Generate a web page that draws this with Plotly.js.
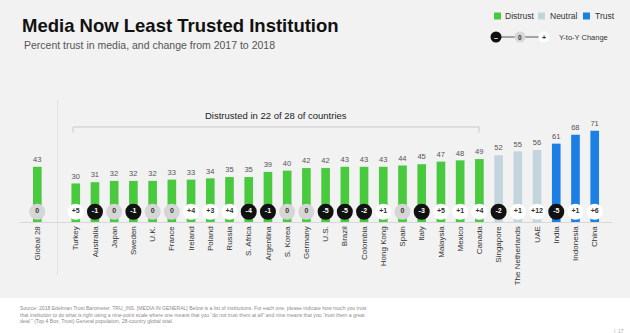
<!DOCTYPE html>
<html>
<head>
<meta charset="utf-8">
<script src="https://cdn.plot.ly/plotly-3.0.1.min.js"></script>
<style>html,body{margin:0;padding:0;background:#fff;}#chart{width:630px;height:333px;}</style>
</head>
<body>
<div id="chart"></div>
<script>
// ---- data ----
const countries = ['Global 28','Turkey','Australia','Japan','Sweden','U.K.','France','Ireland','Poland','Russia','S. Africa','Argentina','S. Korea','Germany','U.S.','Brazil','Colombia','Hong Kong','Spain','Italy','Malaysia','Mexico','Canada','Singapore','The Netherlands','UAE','India','Indonesia','China'];
const trustPct = [43,30,31,32,32,32,33,33,34,35,35,39,40,42,42,43,43,43,44,45,47,48,49,52,55,56,61,68,71];
const yoyChange = [0,5,-1,0,-1,0,0,4,3,4,-4,-1,0,0,-5,-5,-2,1,0,-3,5,1,4,-2,1,12,-5,1,6];
const trustLevel = ['distrust','distrust','distrust','distrust','distrust','distrust','distrust','distrust','distrust','distrust','distrust','distrust','distrust','distrust','distrust','distrust','distrust','distrust','distrust','distrust','distrust','distrust','distrust','neutral','neutral','neutral','trust','trust','trust'];
const bracketLabel = 'Distrusted in 22 of 28 of countries';

// ---- styles ----
const levelColor = {distrust:'#49c93e', neutral:'#c4d4dd', trust:'#1b7fe4'};
const spacer = ' ';
const catOrder = [countries[0], spacer].concat(countries.slice(1));

// pixel helpers for paper coordinates (plot area: x 20..612, y 100..222)
const PL = 20, PW = 592, PB = 222, PH = 122;
const px = x => (x - PL) / PW;
const py = y => (PB - y) / PH;

const changeText = yoyChange.map(v => v > 0 ? '+' + v : String(v));
const circleFill = yoyChange.map(v => v < 0 ? '#111111' : (v === 0 ? '#d6d6d6' : '#ffffff'));
const circleTextColor = yoyChange.map(v => v < 0 ? '#ffffff' : '#333333');

const bars = {
  type: 'bar',
  x: countries,
  y: trustPct,
  width: 0.45,
  marker: {color: trustLevel.map(l => levelColor[l])},
  text: trustPct.map(String),
  textposition: 'outside',
  textfont: {family: 'Liberation Sans, Arial, sans-serif', size: 8.5, color: '#555'},
  cliponaxis: false,
  hoverinfo: 'skip'
};

const circles = {
  type: 'scatter',
  mode: 'markers+text',
  x: countries,
  y: countries.map(() => 8),
  marker: {size: 16, color: circleFill, line: {width: 0}},
  text: changeText,
  textposition: 'middle center',
  textfont: {family: 'Liberation Sans, Arial, sans-serif', size: 7, color: circleTextColor, weight: 700},
  cliponaxis: false,
  hoverinfo: 'skip'
};

const shapes = [
  {type:'rect', xref:'paper', yref:'paper', x0:px(0), x1:px(630), y0:py(298), y1:py(0), fillcolor:'#f2f2f2', line:{width:0}, layer:'below'},
  {type:'line', xref:'x', yref:'paper', x0:1.05, x1:1.05, y0:py(275), y1:py(100), line:{color:'#e2e2e2', width:1}, layer:'below'},
  {type:'path', xref:'x', yref:'y', path:'M 1.86 69.5 L 1.86 74 L 22.98 74 L 22.98 69.5', line:{color:'#c8c8c8', width:1}},
  {type:'rect', xref:'paper', yref:'paper', x0:px(494), x1:px(501), y0:py(19.5), y1:py(12.5), fillcolor:levelColor.distrust, line:{width:0}},
  {type:'rect', xref:'paper', yref:'paper', x0:px(538), x1:px(545), y0:py(19.5), y1:py(12.5), fillcolor:levelColor.neutral, line:{width:0}},
  {type:'rect', xref:'paper', yref:'paper', x0:px(583), x1:px(590), y0:py(19.5), y1:py(12.5), fillcolor:levelColor.trust, line:{width:0}},
  {type:'line', xref:'paper', yref:'paper', x0:px(496), x1:px(544), y0:py(37), y1:py(37), line:{color:'#555', width:1}},
  {type:'circle', xref:'paper', yref:'paper', x0:px(490.5), x1:px(501.5), y0:py(42.5), y1:py(31.5), fillcolor:'#111', line:{width:0}},
  {type:'circle', xref:'paper', yref:'paper', x0:px(514.5), x1:px(525.5), y0:py(42.5), y1:py(31.5), fillcolor:'#d6d6d6', line:{width:0}},
  {type:'circle', xref:'paper', yref:'paper', x0:px(538.5), x1:px(549.5), y0:py(42.5), y1:py(31.5), fillcolor:'#ffffff', line:{width:0}}
];

const F = 'Liberation Sans, Arial, sans-serif';
const annotations = [
  {xref:'paper', yref:'paper', x:px(22), y:py(45), xanchor:'left', yanchor:'middle', showarrow:false, text:'Percent trust in media, and change from 2017 to 2018', font:{family:F, size:10.5, color:'#555'}},
  {xref:'x', yref:'y', x:12.4, y:83.3, xanchor:'center', yanchor:'middle', showarrow:false, text:bracketLabel, font:{family:F, size:9.5, color:'#222'}},
  {xref:'paper', yref:'paper', x:px(503), y:py(16), xanchor:'left', yanchor:'middle', showarrow:false, text:'Distrust', font:{family:F, size:8.5, color:'#333'}},
  {xref:'paper', yref:'paper', x:px(548), y:py(16), xanchor:'left', yanchor:'middle', showarrow:false, text:'Neutral', font:{family:F, size:8.5, color:'#333'}},
  {xref:'paper', yref:'paper', x:px(593), y:py(16), xanchor:'left', yanchor:'middle', showarrow:false, text:'Trust', font:{family:F, size:8.5, color:'#333'}},
  {xref:'paper', yref:'paper', x:px(496), y:py(37), xanchor:'center', yanchor:'middle', showarrow:false, text:'–', font:{family:F, size:7, color:'#fff', weight:700}},
  {xref:'paper', yref:'paper', x:px(520), y:py(37), xanchor:'center', yanchor:'middle', showarrow:false, text:'0', font:{family:F, size:6.5, color:'#333', weight:700}},
  {xref:'paper', yref:'paper', x:px(544), y:py(37), xanchor:'center', yanchor:'middle', showarrow:false, text:'+', font:{family:F, size:7, color:'#333', weight:700}},
  {xref:'paper', yref:'paper', x:px(557), y:py(37), xanchor:'left', yanchor:'middle', showarrow:false, text:'Y-to-Y Change', font:{family:F, size:7.5, color:'#333'}},
  {xref:'paper', yref:'paper', x:px(18), y:py(302.5), xanchor:'left', yanchor:'top', align:'left', showarrow:false,
   text:'Source: 2018 Edelman Trust Barometer. TRU_INS. [MEDIA IN GENERAL] Below is a list of institutions. For each one, please indicate how much you trust<br>that institution to do what is right using a nine-point scale where one means that you “do not trust them at all” and nine means that you “trust them a great<br>deal.” (Top 4 Box, Trust) General population, 28-country global total.',
   font:{family:F, size:5.1, color:'#8a8a8a'}},
  {xref:'paper', yref:'paper', x:px(626), y:py(331), xanchor:'right', yanchor:'middle', showarrow:false, text:'|  17', font:{family:F, size:5, color:'#aaa'}}
];

const layout = {
  width: 630, height: 333,
  margin: {l: 20, r: 18, t: 100, b: 111, pad: 0},
  paper_bgcolor: '#ffffff',
  plot_bgcolor: 'rgba(0,0,0,0)',
  showlegend: false,
  title: {text: 'Media Now Least Trusted Institution', xref:'container', yref:'container', x: 22/630, xanchor:'left', y: 1 - 25.5/333, yanchor:'middle',
          font: {family: F, size: 18.5, color: '#111', weight: 700}},
  xaxis: {type:'category', categoryorder:'array', categoryarray: catOrder, range:[-0.9, 29.9],
          tickangle: -90, tickfont:{family:F, size:8, color:'#333'}, showgrid:false, zeroline:false,
          showline:true, linecolor:'#d8d8d8', linewidth:1, ticks:'', ticklen:0, fixedrange:true},
  yaxis: {range:[0,95], visible:false, showgrid:false, zeroline:false, fixedrange:true},
  shapes: shapes,
  annotations: annotations,
  bargap: 0.55
};

Plotly.newPlot('chart', [bars, circles], layout, {displayModeBar:false, staticPlot:true});
</script>
</body>
</html>
